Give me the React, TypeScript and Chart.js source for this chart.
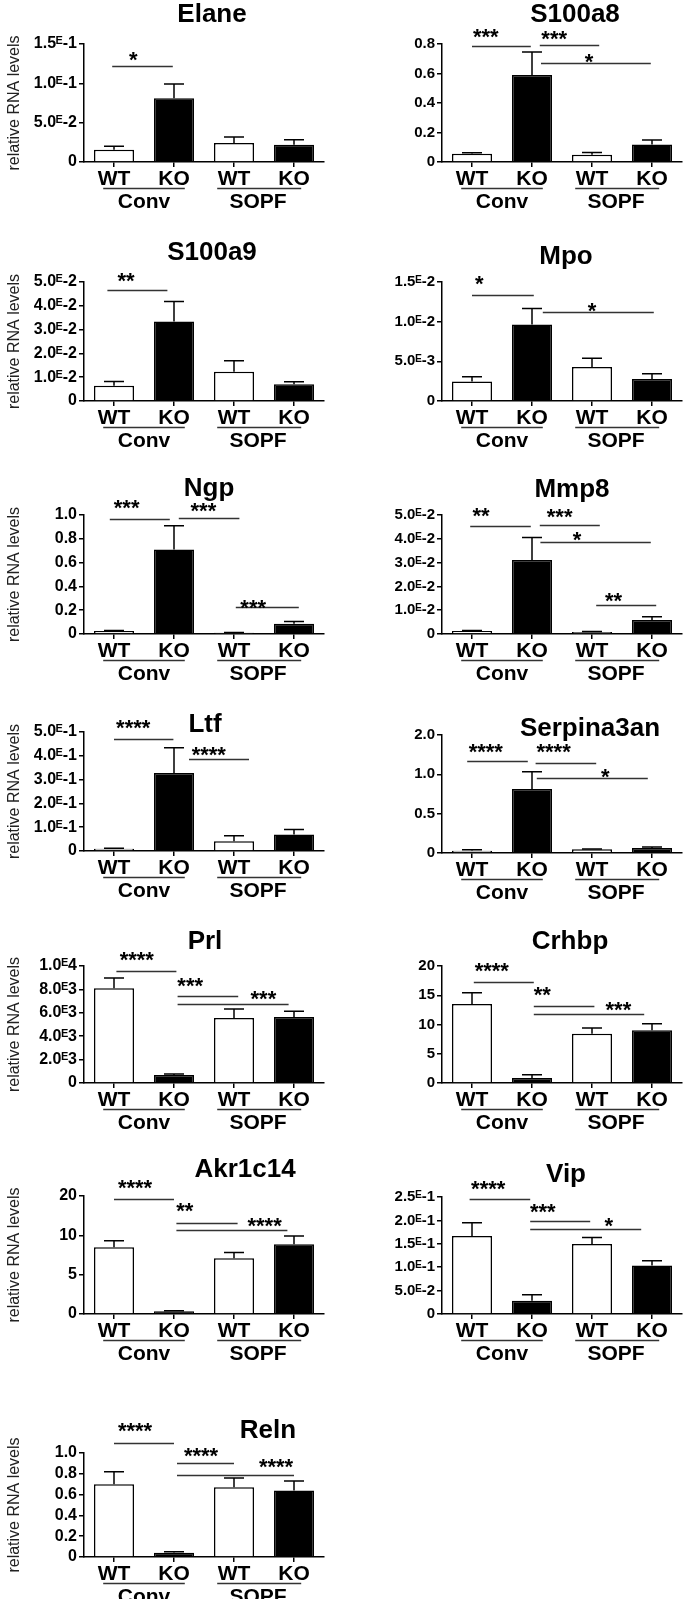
import React, { useEffect, useRef } from 'react';
import { Chart, registerables } from 'chart.js';

Chart.register(...registerables);

const FONT = "'Liberation Sans', Arial, 'DejaVu Sans', sans-serif";

// ---------- categories ----------
const genotypes = ['WT', 'KO', 'WT', 'KO'];
const housings = ['Conv', 'SOPF'];
const yAxisTitle = 'relative RNA levels';

// ---------- series values (mean, SEM) : WT-Conv, KO-Conv, WT-SOPF, KO-SOPF ----------
const elaneMean = [0.0157, 0.0809, 0.0242, 0.022];
const elaneSem = [0.0042, 0.0183, 0.0076, 0.0064];
const s100a8Mean = [0.056, 0.59, 0.05, 0.119];
const s100a8Sem = [0.007, 0.156, 0.015, 0.03];
const s100a9Mean = [0.0064, 0.0334, 0.0123, 0.007];
const s100a9Sem = [0.0018, 0.0084, 0.0046, 0.0011];
const mpoMean = [0.00247, 0.00964, 0.00427, 0.00277];
const mpoSem = [0.00059, 0.00201, 0.00113, 0.00067];
const ngpMean = [0.025, 0.711, 0.011, 0.087];
const ngpSem = [0.004, 0.199, 0.002, 0.017];
const mmp8Mean = [0.0013, 0.0311, 0.0008, 0.0059];
const mmp8Sem = [0.0002, 0.0094, 0.0002, 0.0014];
const ltfMean = [0.0098, 0.328, 0.0405, 0.0698];
const ltfSem = [0.002, 0.106, 0.0237, 0.021];
const serpinaMean = [0.03, 0.812, 0.047, 0.064];
const serpinaSem = [0.012, 0.221, 0.004, 0.012];
const prlMean = [8091, 684, 5556, 5641];
const prlSem = [883, 85, 769, 484];
const crhbpMean = [13.5, 0.85, 8.43, 9.0];
const crhbpSem = [1.94, 0.57, 0.97, 1.14];
const akrMean = [8.49, 0.34, 7.1, 8.87];
const akrSem = [0.81, 0.08, 0.72, 1.06];
const vipMean = [0.1664, 0.0283, 0.1494, 0.1034];
const vipSem = [0.0284, 0.0128, 0.0142, 0.0106];
const relnMean = [0.7, 0.04, 0.67, 0.64];
const relnSem = [0.12, 0.01, 0.09, 0.09];

// ---------- y tick labels (evenly spaced from 0 to the axis top) ----------
const elaneTicks = ['0', '5.0ᴱ-2', '1.0ᴱ-1', '1.5ᴱ-1'];
const s100a8Ticks = ['0', '0.2', '0.4', '0.6', '0.8'];
const s100a9Ticks = ['0', '1.0ᴱ-2', '2.0ᴱ-2', '3.0ᴱ-2', '4.0ᴱ-2', '5.0ᴱ-2'];
const mpoTicks = ['0', '5.0ᴱ-3', '1.0ᴱ-2', '1.5ᴱ-2'];
const ngpTicks = ['0', '0.2', '0.4', '0.6', '0.8', '1.0'];
const mmp8Ticks = ['0', '1.0ᴱ-2', '2.0ᴱ-2', '3.0ᴱ-2', '4.0ᴱ-2', '5.0ᴱ-2'];
const ltfTicks = ['0', '1.0ᴱ-1', '2.0ᴱ-1', '3.0ᴱ-1', '4.0ᴱ-1', '5.0ᴱ-1'];
const serpinaTicks = ['0', '0.5', '1.0', '2.0'];
const prlTicks = ['0', '2.0ᴱ3', '4.0ᴱ3', '6.0ᴱ3', '8.0ᴱ3', '1.0ᴱ4'];
const crhbpTicks = ['0', '5', '10', '15', '20'];
const akrTicks = ['0', '5', '10', '20'];
const vipTicks = ['0', '5.0ᴱ-2', '1.0ᴱ-1', '1.5ᴱ-1', '2.0ᴱ-1', '2.5ᴱ-1'];
const relnTicks = ['0', '0.2', '0.4', '0.6', '0.8', '1.0'];

// axis top value (position of the last tick)
const axisTops = [0.15, 0.8, 0.05, 0.015, 1.0, 0.05, 0.5, 1.5, 10000, 20, 15, 0.25, 1.0];

// ---------- significance brackets: [from, to, lineValue, stars, starsAt, starsValue] ----------
type Sig = [number, number, number, string, number, number];
const elaneSig: Sig[] = [[-0.03, 0.98, 0.1216, '*', 0.32, 0.1364]];
const s100a8Sig: Sig[] = [
  [0, 0.98, 0.784, '***', 0.23, 0.886],
  [1.13, 2.12, 0.791, '***', 1.37, 0.874],
  [1.15, 2.98, 0.674, '*', 1.95, 0.712],
];
const s100a9Sig: Sig[] = [[-0.11, 0.89, 0.0465, '**', 0.2, 0.0528]];
const mpoSig: Sig[] = [
  [0, 1.03, 0.01332, '*', 0.12, 0.0154],
  [1.18, 3.03, 0.01123, '*', 2.0, 0.01207],
];
const ngpSig: Sig[] = [
  [-0.07, 0.93, 0.966, '***', 0.21, 1.104],
  [1.08, 2.09, 0.978, '***', 1.49, 1.084],
  [2.03, 3.08, 0.224, '***', 2.32, 0.266],
];
const mmp8Sig: Sig[] = [
  [-0.03, 0.98, 0.0455, '**', 0.15, 0.0521],
  [1.13, 2.13, 0.0459, '***', 1.46, 0.0514],
  [1.14, 2.98, 0.0385, '*', 1.75, 0.042],
  [2.07, 3.07, 0.0122, '**', 2.36, 0.016],
];
const ltfSig: Sig[] = [
  [0, 0.99, 0.472, '****', 0.32, 0.538],
  [1.25, 2.25, 0.388, '****', 1.58, 0.426],
];
const serpinaSig: Sig[] = [
  [-0.08, 0.93, 1.169, '****', 0.23, 1.36],
  [1.06, 2.07, 1.147, '****', 1.36, 1.351],
  [1.08, 2.93, 0.952, '*', 2.22, 1.033],
];
const prlSig: Sig[] = [
  [0.04, 1.04, 9544, '****', 0.38, 10969],
  [1.06, 2.07, 7436, '***', 1.27, 8775],
  [1.06, 2.91, 6781, '***', 2.49, 7635],
];
const crhbpSig: Sig[] = [
  [0.03, 1.03, 17.26, '****', 0.33, 20.1],
  [1.03, 2.04, 13.16, '**', 1.17, 15.95],
  [1.03, 2.87, 11.85, '***', 2.44, 13.45],
];
const akrSig: Sig[] = [
  [0, 1.0, 14.58, '****', 0.35, 16.69],
  [1.04, 2.06, 11.54, '**', 1.18, 13.73],
  [1.04, 2.89, 10.69, '****', 2.51, 11.87],
];
const vipSig: Sig[] = [
  [-0.04, 0.97, 0.2465, '****', 0.27, 0.2797],
  [0.97, 1.97, 0.1983, '***', 1.18, 0.2302],
  [0.97, 2.82, 0.1806, '*', 2.28, 0.2004],
];
const relnSig: Sig[] = [
  [0, 1.0, 1.1, '****', 0.35, 1.26],
  [1.05, 2.0, 0.9, '****', 1.45, 1.02],
  [1.05, 3.0, 0.79, '****', 2.7, 0.92],
];

const genes = ['Elane', 'S100a8', 'S100a9', 'Mpo', 'Ngp', 'Mmp8', 'Ltf', 'Serpina3an', 'Prl', 'Crhbp', 'Akr1c14', 'Vip', 'Reln'];
const means = [elaneMean, s100a8Mean, s100a9Mean, mpoMean, ngpMean, mmp8Mean, ltfMean, serpinaMean, prlMean, crhbpMean, akrMean, vipMean, relnMean];
const sems = [elaneSem, s100a8Sem, s100a9Sem, mpoSem, ngpSem, mmp8Sem, ltfSem, serpinaSem, prlSem, crhbpSem, akrSem, vipSem, relnSem];
const tickSets = [elaneTicks, s100a8Ticks, s100a9Ticks, mpoTicks, ngpTicks, mmp8Ticks, ltfTicks, serpinaTicks, prlTicks, crhbpTicks, akrTicks, vipTicks, relnTicks];
const sigSets = [elaneSig, s100a8Sig, s100a9Sig, mpoSig, ngpSig, mmp8Sig, ltfSig, serpinaSig, prlSig, crhbpSig, akrSig, vipSig, relnSig];

// ---------- layout (page pixels): column, axis-top y, zero y, title centre ----------
const layouts: [number, number, number, number, number][] = [
  [0, 44, 162, 212, 15],
  [1, 44, 162, 575, 15],
  [0, 282, 401, 212, 253],
  [1, 282, 401, 566, 257],
  [0, 515, 634, 209, 489],
  [1, 515, 634, 572, 490],
  [0, 732, 851, 205, 725],
  [1, 735, 853, 590, 729],
  [0, 966, 1083, 205, 942],
  [1, 966, 1083, 570, 942],
  [0, 1196, 1314, 245, 1170],
  [1, 1197, 1314, 566, 1175],
  [0, 1453, 1557, 268, 1431],
];

const ABOVE = 170;
const BELOW = 50;
const COL_LEFT = [0, 343];
const COL_W = [343, 344];
const AXIS_X = [84, 442];
const PLOT_W = 240;
const GROUP_SPANS = [[-0.18, 1.18], [1.72, 3.12]];
const GROUP_LABEL_AT = [0.5, 2.4];

function Panel({ idx }: { idx: number }) {
  const ref = useRef<HTMLCanvasElement | null>(null);
  const [col, top, zero, titleX, titleY] = layouts[idx];
  const canvasLeft = COL_LEFT[col];
  const canvasTop = zero - ABOVE;
  const w = COL_W[col];
  const h = ABOVE + BELOW;

  useEffect(() => {
    if (!ref.current) return;
    const mean = means[idx];
    const sem = sems[idx];
    const ticks = tickSets[idx];
    const sig = sigSets[idx];
    const yMax = axisTops[idx];
    const yW = AXIS_X[col] - canvasLeft;
    const padTop = ABOVE - (zero - top);
    const padRight = w - yW - PLOT_W;
    const tickSize = col === 0 ? 16 : 15;

    const overlay = {
      id: 'overlay' + idx,
      afterDatasetsDraw(chart: any) {
        const ctx = chart.ctx as CanvasRenderingContext2D;
        const xs = chart.scales.x;
        const ys = chart.scales.y;
        const meta = chart.getDatasetMeta(0);
        ctx.save();
        // error bars
        ctx.strokeStyle = '#000';
        ctx.lineWidth = 1.5;
        meta.data.forEach((bar: any, i: number) => {
          const x = bar.x;
          const y1 = ys.getPixelForValue(mean[i]);
          const y2 = ys.getPixelForValue(mean[i] + sem[i]);
          ctx.beginPath();
          ctx.moveTo(x, y1);
          ctx.lineTo(x, y2);
          ctx.moveTo(x - 10, y2);
          ctx.lineTo(x + 10, y2);
          ctx.stroke();
        });
        // significance brackets
        ctx.strokeStyle = '#333';
        ctx.lineWidth = 1.3;
        ctx.fillStyle = '#000';
        ctx.font = `bold 22px ${FONT}`;
        ctx.textAlign = 'center';
        ctx.textBaseline = 'alphabetic';
        sig.forEach(([a, b, v, label, lx, lv]) => {
          const y = Math.round(ys.getPixelForValue(v)) + 0.5;
          ctx.beginPath();
          ctx.moveTo(xs.getPixelForValue(a), y);
          ctx.lineTo(xs.getPixelForValue(b), y);
          ctx.stroke();
          ctx.fillText(label, xs.getPixelForValue(lx), ys.getPixelForValue(lv) + 12.5);
        });
        // group underline + labels
        const zy = ys.getPixelForValue(0);
        ctx.strokeStyle = '#333';
        ctx.lineWidth = 1.3;
        GROUP_SPANS.forEach(([a, b]) => {
          ctx.beginPath();
          ctx.moveTo(xs.getPixelForValue(a), Math.round(zy + 26) + 0.5);
          ctx.lineTo(xs.getPixelForValue(b), Math.round(zy + 26) + 0.5);
          ctx.stroke();
        });
        ctx.font = `bold 21px ${FONT}`;
        ctx.textBaseline = 'middle';
        housings.forEach((hname, g) => {
          ctx.fillText(hname, xs.getPixelForValue(GROUP_LABEL_AT[g]), zy + 40);
        });
        // title
        ctx.font = `bold 26px ${FONT}`;
        ctx.fillText(genes[idx], titleX - canvasLeft, titleY - canvasTop);
        ctx.restore();
      },
    };

    const axisGrid = {
      display: true,
      drawOnChartArea: false,
      drawTicks: true,
      tickLength: 5,
      color: '#000',
      lineWidth: 1.5,
      offset: false,
    };

    const chart = new Chart(ref.current, {
      type: 'bar',
      data: {
        labels: genotypes,
        datasets: [
          {
            data: mean,
            backgroundColor: ['#ffffff', '#000000', '#ffffff', '#000000'],
            borderColor: '#000',
            borderWidth: 1.5,
            barPercentage: 0.667,
            categoryPercentage: 1,
          },
        ],
      },
      options: {
        responsive: false,
        animation: false,
        events: [],
        layout: { padding: { left: 0, top: padTop, right: padRight, bottom: 0 } },
        plugins: {
          legend: { display: false },
          tooltip: { enabled: false },
          title: { display: false },
        },
        scales: {
          x: {
            type: 'category',
            offset: true,
            z: 1,
            grid: axisGrid,
            border: { display: true, color: '#000', width: 1.5 },
            ticks: {
              color: '#000',
              font: { family: FONT, size: 21, weight: 'bold' },
              padding: 0,
              maxRotation: 0,
              autoSkip: false,
            },
            afterFit: (s: any) => {
              s.height = BELOW;
            },
          },
          y: {
            type: 'linear',
            min: 0,
            max: yMax,
            grid: axisGrid,
            border: { display: true, color: '#000', width: 1.5 },
            ticks: {
              color: '#000',
              font: { family: FONT, size: tickSize, weight: 'bold' },
              padding: 2,
              autoSkip: false,
              callback: (_v: any, i: number) => ticks[i],
            },
            afterBuildTicks: (s: any) => {
              s.ticks = ticks.map((_, i) => ({ value: (yMax * i) / (ticks.length - 1) }));
            },
            afterFit: (s: any) => {
              s.width = yW;
            },
            title:
              col === 0
                ? {
                    display: true,
                    text: yAxisTitle,
                    color: '#222',
                    font: { family: FONT, size: 16, weight: 'normal' },
                    padding: { top: 5, bottom: 0 },
                  }
                : { display: false },
          },
        },
      } as any,
      plugins: [overlay],
    });
    return () => chart.destroy();
  }, []);

  return (
    <canvas
      ref={ref}
      width={w}
      height={h}
      style={{ position: 'absolute', left: canvasLeft, top: canvasTop, width: w, height: h }}
    />
  );
}

export default function App() {
  return (
    <div
      style={{
        position: 'absolute',
        left: 0,
        top: 0,
        width: 687,
        height: 1599,
        background: '#fff',
        overflow: 'hidden',
      }}
    >
      {genes.map((g, i) => (
        <Panel key={g} idx={i} />
      ))}
    </div>
  );
}
